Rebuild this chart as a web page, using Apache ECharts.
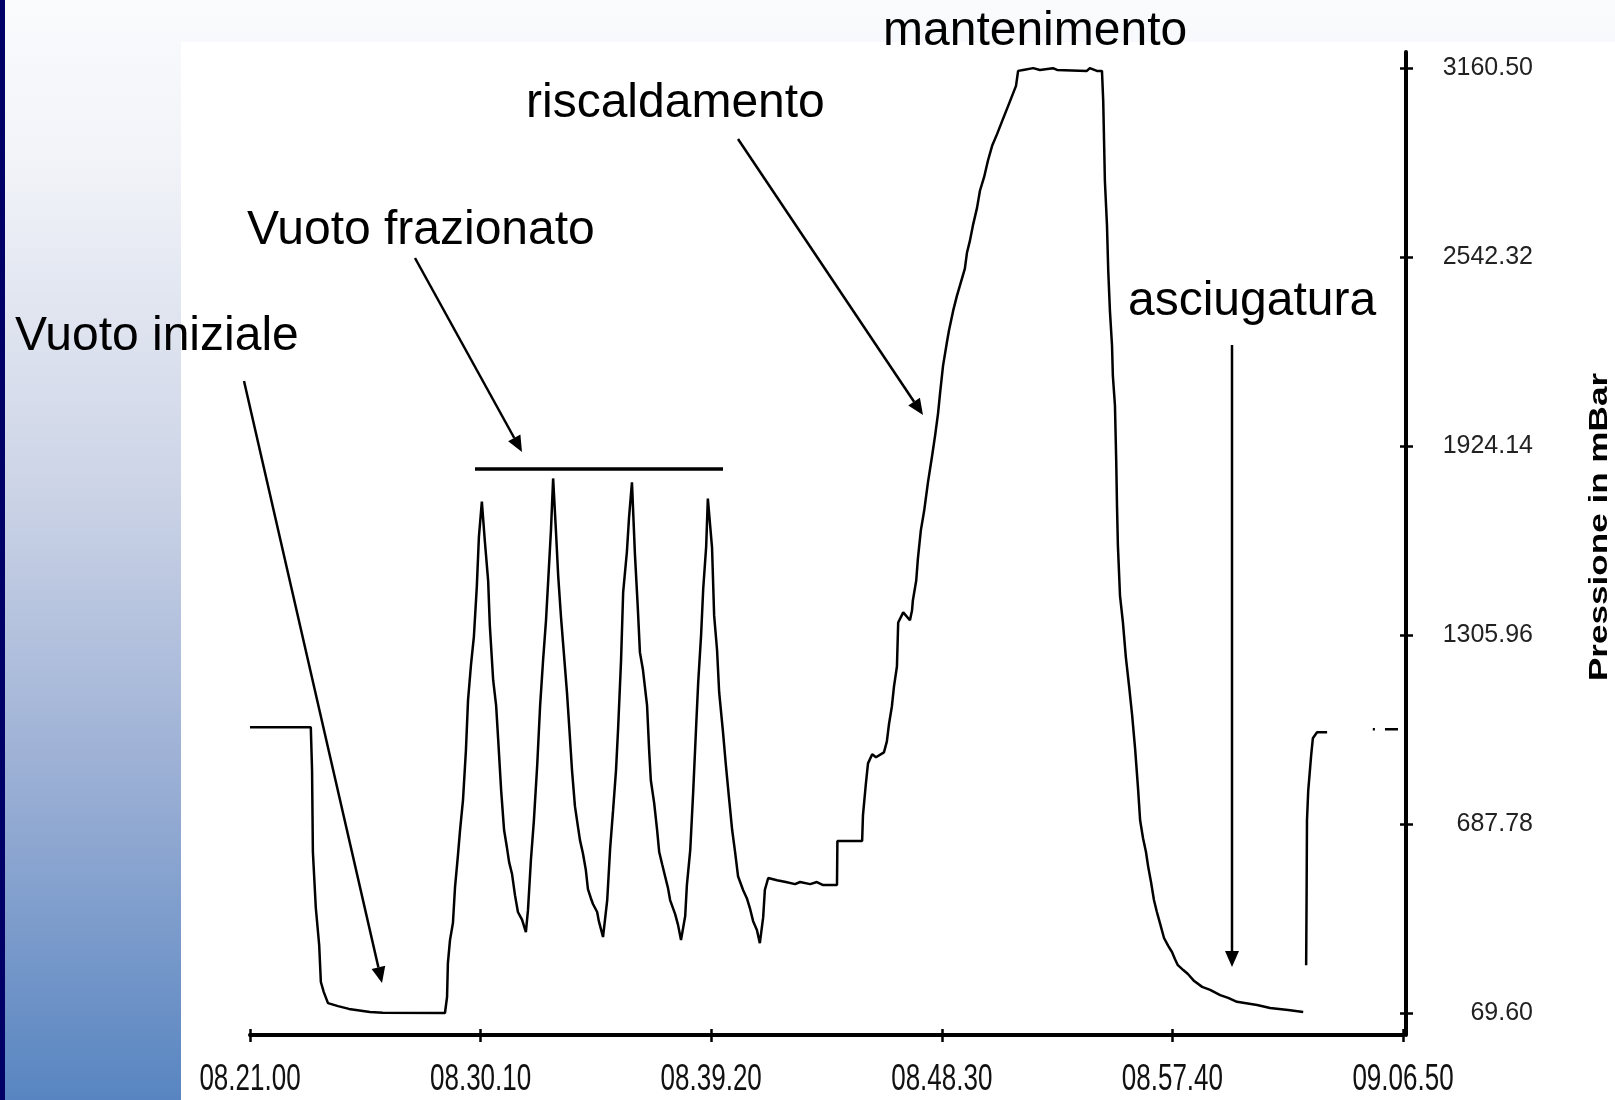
<!DOCTYPE html>
<html>
<head>
<meta charset="utf-8">
<script src="https://cdn.jsdelivr.net/npm/echarts@6/dist/echarts.min.js"></script>
<style>
  html, body { margin: 0; padding: 0; background: #fff; }
  #wrap { position: relative; width: 1615px; height: 1100px; overflow: hidden; }
  #bg { position: absolute; left: 0; top: 0; width: 1615px; height: 1100px;
        background: linear-gradient(to bottom, #fafbfd 0%, #f1f3f8 15%, #cbd3e6 45%, #9cb0d5 70%, #5885c1 100%); }
  #bar { position: absolute; left: 0; top: 0; width: 5px; height: 1100px; background: #000066; }
  #paper { position: absolute; left: 181px; top: 42px; width: 1434px; height: 1058px; background: #fff; }
  #chart { position: absolute; left: 0; top: 0; width: 1615px; height: 1100px; }
</style>
</head>
<body>
<div id="wrap">
  <div id="bg"></div>
  <div id="bar"></div>
  <div id="paper"></div>
  <div id="chart"></div>
</div>
<script>
// ---- data ----
const startClock = "08:21:00";
const endClock = "09:06:50";
const xTickStep = 550; // seconds (9 min 10 s)
const yTicks = [69.60, 687.78, 1305.96, 1924.14, 2542.32, 3160.50];

const times = [
  "08:21:00","08:23:25","08:23:28","08:23:30","08:23:37","08:23:45","08:23:49","08:23:56","08:24:06","08:24:30",
  "08:24:56","08:25:46","08:26:17","08:28:45","08:28:50","08:28:52","08:28:57","08:29:04","08:29:09","08:29:16",
  "08:29:21","08:29:28","08:29:35","08:29:40","08:29:47","08:29:54","08:30:01","08:30:06","08:30:13","08:30:20",
  "08:30:28","08:30:32","08:30:40","08:30:47","08:30:52","08:30:59","08:31:06","08:31:13","08:31:18","08:31:25",
  "08:31:32","08:31:39","08:31:49","08:31:58","08:32:03","08:32:10","08:32:17","08:32:25","08:32:32","08:32:39",
  "08:32:46","08:32:51","08:32:58","08:33:03","08:33:10","08:33:15","08:33:22","08:33:29","08:33:36","08:33:41",
  "08:33:48","08:33:55","08:34:02","08:34:07","08:34:14","08:34:21","08:34:26","08:34:33","08:34:38","08:34:48",
  "08:34:52","08:35:02","08:35:12","08:35:19","08:35:26","08:35:33","08:35:38","08:35:45","08:35:50","08:35:59",
  "08:36:04","08:36:11","08:36:18","08:36:25","08:36:30","08:36:37","08:36:47","08:36:52","08:36:56","08:37:04",
  "08:37:11","08:37:16","08:37:23","08:37:30","08:37:37","08:37:42","08:37:54","08:38:01","08:38:08","08:38:18",
  "08:38:22","08:38:30","08:38:37","08:38:44","08:38:49","08:38:56","08:39:01","08:39:08","08:39:12","08:39:22",
  "08:39:27","08:39:34","08:39:39","08:39:48","08:39:55","08:40:03","08:40:10","08:40:17","08:40:24","08:40:36",
  "08:40:45","08:40:53","08:41:00","08:41:09","08:41:16","08:41:24","08:41:28","08:41:36","08:41:57","08:42:18",
  "08:42:40","08:42:52","08:43:16","08:43:32","08:43:47","08:44:20","08:44:21","08:45:20","08:45:22","08:45:29",
  "08:45:34","08:45:44","08:45:53","08:46:12","08:46:19","08:46:24","08:46:31","08:46:36","08:46:43","08:46:46",
  "08:46:58","08:47:14","08:47:19","08:47:21","08:47:29","08:47:33","08:47:40","08:47:48","08:47:57","08:48:07",
  "08:48:14","08:48:21","08:48:26","08:48:33","08:48:42","08:48:47","08:48:57","08:49:06","08:49:13","08:49:25",
  "08:49:30","08:49:37","08:49:44","08:49:54","08:50:01","08:50:11","08:50:20","08:50:30","08:50:42","08:50:56",
  "08:51:13","08:51:27","08:51:32","08:51:44","08:52:08","08:52:24","08:52:55","08:53:05","08:54:16","08:54:23",
  "08:54:40","08:54:52","08:54:55","08:54:57","08:54:59","08:55:04","08:55:07","08:55:11","08:55:16","08:55:18",
  "08:55:23","08:55:26","08:55:28","08:55:30","08:55:35","08:55:42","08:55:49","08:55:57","08:56:04","08:56:11",
  "08:56:18","08:56:23","08:56:30","08:56:37","08:56:42","08:56:49","08:56:56","08:57:03","08:57:11","08:57:20",
  "08:57:30","08:57:39","08:57:46","08:57:53","08:58:06","08:58:17","08:58:32","08:58:51","08:59:10","08:59:34",
  "08:59:53","09:00:14","09:01:02","09:01:33","09:02:16","09:02:52","09:02:55","09:02:59","09:03:00","09:03:01",
  "09:03:04","09:03:11","09:03:15","09:03:25","09:03:49","09:04:20","09:05:38","09:05:43","09:05:55","09:06:07",
  "09:06:38"
];
const pressure = [
  1004,1004,864,596,413,292,171,138,102,92,
  83,73,70,69.6,122,233,308,364,481,586,
  668,766,929,1092,1207,1301,1465,1628,1742,1615,
  1484,1337,1158,1076,962,798,668,609,563,524,
  455,400,374,334,406,570,697,880,1076,1223,
  1354,1478,1654,1818,1638,1501,1360,1239,1118,1014,
  864,746,681,635,592,537,475,445,426,400,
  370,318,439,609,733,864,1001,1223,1445,1579,
  1690,1805,1573,1393,1249,1194,1076,929,831,756,
  668,596,556,517,478,439,393,357,308,387,
  488,602,792,1004,1151,1308,1458,1595,1752,1592,
  1370,1256,1118,991,880,766,668,596,517,472,
  445,409,370,341,298,383,472,511,504,498,
  491,498,491,498,488,488,632,632,717,821,
  886,916,906,922,958,1014,1073,1138,1203,1347,
  1380,1354,1386,1419,1484,1556,1648,1713,1805,1893,
  1958,2030,2099,2187,2262,2301,2366,2415,2448,2504,
  2556,2595,2644,2703,2759,2804,2857,2906,2945,2994,
  3053,3102,3151,3154,3160,3154,3160,3154,3151,3160,
  3151,3151,3053,2922,2791,2644,2497,2366,2252,2154,
  2056,1876,1720,1599,1435,1347,1233,1135,1043,935,
  805,700,641,596,550,498,439,400,360,315,
  289,269,246,226,210,197,174,155,145,128,
  119,106,96,86,79,73,null,226,439,700,
  798,913,968,988,988,null,998,998,null,998,
  998
];

const phaseLabels = ["Vuoto iniziale", "Vuoto frazionato", "riscaldamento", "mantenimento", "asciugatura"];
const yAxisTitle = "Pressione in mBar";

// ---- helpers ----
function clockToSec(c) { const p = c.split(":").map(Number); return p[0] * 3600 + p[1] * 60 + p[2]; }
const t0 = clockToSec(startClock);
const tEnd = clockToSec(endClock) - t0;
function fmtClock(sec) {
  const s = Math.round(t0 + sec);
  const h = Math.floor(s / 3600), m = Math.floor((s % 3600) / 60), ss = s % 60;
  const p = n => String(n).padStart(2, "0");
  return p(h) + "." + p(m) + "." + p(ss);
}
const seriesData = times.map((c, i) => [clockToSec(c) - t0, pressure[i]]);
const xTickValues = [];
for (let v = 0; v <= tEnd + 0.001; v += xTickStep) xTickValues.push(v);

const chart = echarts.init(document.getElementById("chart"), null, { renderer: "canvas" });

const textFont = '48px "Liberation Sans", Arial, sans-serif';
function label(text, x, baseline) {
  return { type: "text", x: x, y: baseline - 16, z: 10,
    style: { text: text, font: textFont, fill: "#000", align: "left", verticalAlign: "middle" } };
}
function arrow(x1, y1, x2, y2) {
  const ang = Math.atan2(y2 - y1, x2 - x1), L = 16, W = 7;
  const bx = x2 - L * Math.cos(ang), by = y2 - L * Math.sin(ang);
  const nx = -Math.sin(ang), ny = Math.cos(ang);
  return [
    { type: "line", z: 10, shape: { x1: x1, y1: y1, x2: bx, y2: by }, style: { stroke: "#000", lineWidth: 2.5 } },
    { type: "polygon", z: 10, shape: { points: [[x2, y2], [bx + nx * W, by + ny * W], [bx - nx * W, by - ny * W]] }, style: { fill: "#000" } }
  ];
}

const graphics = [
  label(phaseLabels[0], 15, 353),
  label(phaseLabels[1], 247, 247),
  label(phaseLabels[2], 526, 120),
  label(phaseLabels[3], 883, 48),
  label(phaseLabels[4], 1128, 318),
  ...arrow(244, 381, 382, 983),
  ...arrow(415, 258, 522, 452),
  ...arrow(738, 139, 923, 415),
  ...arrow(1232, 345, 1232, 967),
  { type: "line", z: 10, shape: { x1: 475, y1: 469, x2: 723, y2: 469 }, style: { stroke: "#000", lineWidth: 3.5 } },
  { type: "text", x: 1600, y: 527, rotation: Math.PI / 2, scaleX: 1.35, z: 10,
    style: { text: yAxisTitle, font: 'bold 26px "Liberation Sans", Arial, sans-serif', fill: "#000", align: "center", verticalAlign: "middle" } }
];

const tickFont = '"Liberation Sans", Arial, sans-serif';
const option = {
  animation: false,
  backgroundColor: "transparent",
  grid: { left: 250, right: 212, top: 52, bottom: 65, containLabel: false },
  xAxis: [
    { type: "value", min: 0, max: tEnd, interval: xTickStep, position: "bottom",
      axisLine: { show: true, onZero: false, lineStyle: { color: "#000", width: 4 } },
      axisTick: { show: true, inside: false, length: 7, lineStyle: { color: "#000", width: 2.5 } },
      axisLabel: { show: false },
      splitLine: { show: false } },
    { type: "value", min: 0, max: tEnd, interval: xTickStep, position: "bottom",
      axisLine: { show: false, onZero: false },
      axisTick: { show: true, inside: true, length: 6, lineStyle: { color: "#000", width: 2.5 } },
      axisLabel: { show: false }, splitLine: { show: false } }
  ],
  yAxis: [
    { type: "value", position: "right", offset: 3, min: -2.4, max: 3212.8,
      axisLine: { show: true, onZero: false, lineStyle: { color: "#000", width: 4 } },
      axisTick: { show: true, inside: false, length: 7, customValues: yTicks, lineStyle: { color: "#000", width: 2.5 } },
      axisLabel: { show: true, customValues: yTicks, formatter: v => Number(v).toFixed(2), align: "right", margin: 127,
        color: "#222", fontFamily: tickFont, fontSize: 25 },
      splitLine: { show: false } },
    { type: "value", position: "right", offset: 3, min: -2.4, max: 3212.8,
      axisLine: { show: false, onZero: false },
      axisTick: { show: true, inside: true, length: 6, customValues: yTicks, lineStyle: { color: "#000", width: 2.5 } },
      axisLabel: { show: false }, splitLine: { show: false } }
  ],
  series: [{
    type: "line", xAxisIndex: 0, yAxisIndex: 0, data: seriesData,
    showSymbol: false, connectNulls: false, clip: false,
    lineStyle: { color: "#000", width: 2.5 }
  }],
  graphic: graphics
};
chart.setOption(option);

// x tick labels: condensed time labels placed at the axis' own tick positions
const xLabelY = chart.convertToPixel({ yAxisIndex: 0 }, -2.4) + 45;
const xLabels = xTickValues.map(v => ({
  type: "text", x: chart.convertToPixel({ xAxisIndex: 0 }, v), y: xLabelY, scaleY: 1.45, z: 10,
  style: { text: fmtClock(v), font: '26px "Liberation Sans", Arial, sans-serif', fill: "#111", align: "center", verticalAlign: "middle" }
}));
chart.setOption({ graphic: graphics.concat(xLabels) });
</script>
</body>
</html>
